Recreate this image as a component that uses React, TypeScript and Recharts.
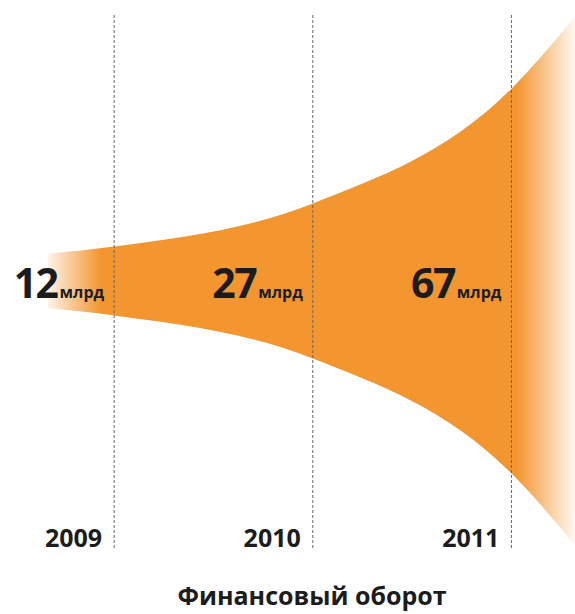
import React from 'react';
import { ComposedChart, Area, Line, XAxis, YAxis, ReferenceLine, LabelList } from 'recharts';

// turnover per year, billions
const years = [2009, 2010, 2011];
const amounts = [12, 27, 67];
// where the funnel starts and runs off the page
const edgeYears = [2008.667, 2011.32];
const edgeAmounts = [9.5, 92];
const unit = 'млрд';
const title = 'Финансовый оборот';

const ORANGE = '#F3962F';
const FONT = '"Open Sans", sans-serif';

const rows = [
  { year: edgeYears[0], band: [-edgeAmounts[0], edgeAmounts[0]] },
  ...years.map((y, i) => ({ year: y, band: [-amounts[i], amounts[i]], mid: 0, amount: amounts[i] })),
  { year: edgeYears[1], band: [-edgeAmounts[1], edgeAmounts[1]] },
];

const YearTick = (props: any) => {
  const { x, y, payload } = props;
  return (
    <text x={x - 12} y={y} dy={-9} textAnchor="end" fontFamily={FONT} fontWeight={700} fontSize={25} fill="#1c1c1c">
      {payload.value}
    </text>
  );
};

const AmountLabel = (props: any) => {
  const { x, y, value } = props;
  if (value == null) return null;
  return (
    <text x={x - 10} y={y + 17} textAnchor="end" fontFamily={FONT} fontWeight={700} fill="#1c1c1c">
      <tspan fontSize={41} letterSpacing={-1.5}>{value}</tspan>
      <tspan fontSize={16} dx={2}>{unit}</tspan>
    </text>
  );
};

export default function App() {
  return (
    <div style={{ position: 'absolute', left: 0, top: 0, width: 575, height: 614, background: '#fff' }}>
      <ComposedChart width={575} height={614} data={rows} margin={{ top: 14, right: 0, bottom: 0, left: 48 }}>
        <defs>
          <linearGradient id="fade" x1="0" y1="0" x2="1" y2="0">
            <stop offset="0" stopColor={ORANGE} stopOpacity={0.12} />
            <stop offset="0.1" stopColor={ORANGE} stopOpacity={1} />
            <stop offset="0.89" stopColor={ORANGE} stopOpacity={1} />
            <stop offset="1" stopColor={ORANGE} stopOpacity={0.06} />
          </linearGradient>
        </defs>
        <XAxis
          type="number"
          dataKey="year"
          domain={[edgeYears[0], edgeYears[1]]}
          ticks={years}
          axisLine={false}
          tickLine={false}
          height={66}
          tick={<YearTick />}
          interval={0}
        />
        <YAxis hide domain={[-93, 93]} allowDataOverflow />
        <Area
          dataKey="band"
          type="monotone"
          stroke="none"
          fill="url(#fade)"
          fillOpacity={1}
          isAnimationActive={false}
        />
        {years.map((y) => (
          <ReferenceLine key={y} x={y} stroke="#666" strokeWidth={1} strokeDasharray="3 2" />
        ))}
        <Line dataKey="mid" stroke="none" dot={false} isAnimationActive={false}>
          <LabelList dataKey="amount" content={<AmountLabel />} />
        </Line>
      </ComposedChart>
      <svg width={575} height={614} style={{ position: 'absolute', left: 0, top: 0, pointerEvents: 'none' }}>
        <text x={312} y={605} textAnchor="middle" fontFamily={FONT} fontWeight={700} fontSize={25} fill="#1c1c1c">
          {title}
        </text>
      </svg>
    </div>
  );
}
